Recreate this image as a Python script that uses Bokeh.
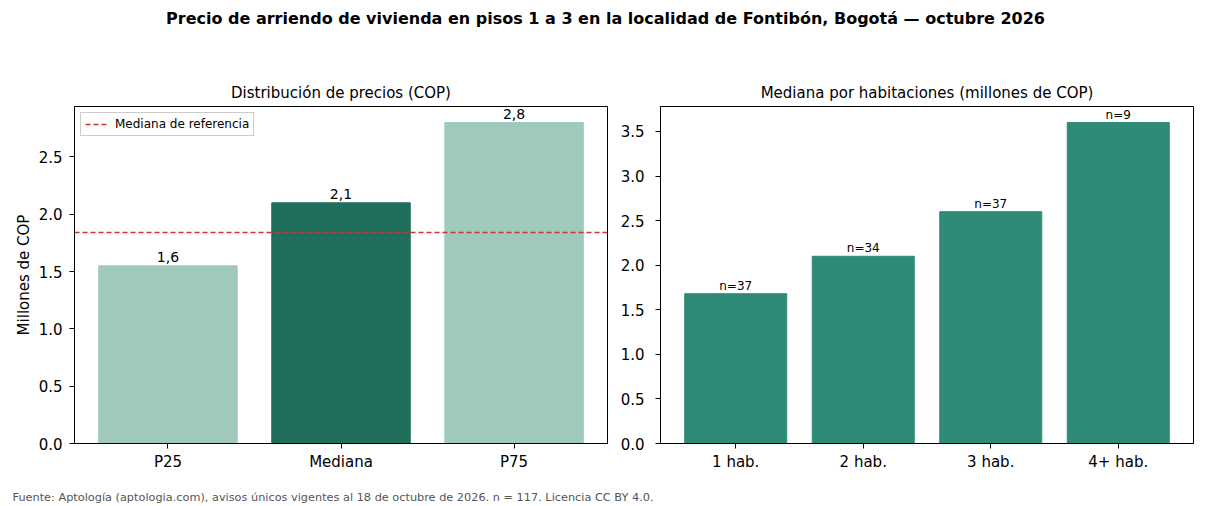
from bokeh.plotting import figure
from bokeh.layouts import column, row
from bokeh.models import Range1d, FixedTicker, Span, Legend, LegendItem, ColumnDataSource, NumeralTickFormatter
from bokeh.core.properties import value
from bokeh.embed import file_html
from bokeh.resources import INLINE

FONT = "DejaVu Sans"

# ---- data ----
main_title = "Precio de arriendo de vivienda en pisos 1 a 3 en la localidad de Fontibón, Bogotá — octubre 2026"
footer_text = "Fuente: Aptología (aptologia.com), avisos únicos vigentes al 18 de octubre de 2026. n = 117. Licencia CC BY 4.0."

dist_labels = ["P25", "Mediana", "P75"]
dist_values = [1.55, 2.10, 2.80]
dist_text = ["1,6", "2,1", "2,8"]
dist_colors = ["#9ec9bc", "#1f6e5c", "#9ec9bc"]
ref_median = 1.84

hab_labels = ["1 hab.", "2 hab.", "3 hab.", "4+ hab."]
hab_values = [1.68, 2.10, 2.60, 3.60]
hab_n = ["n=37", "n=34", "n=37", "n=9"]
hab_color = "#2e8b77"


def style_axes(p, yticks, ystandoff):
    p.xgrid.visible = False
    p.ygrid.visible = False
    p.outline_line_color = "black"
    p.outline_line_width = 1
    for ax in (p.xaxis[0], p.yaxis[0]):
        ax.axis_line_color = "black"
        ax.major_tick_line_color = "black"
        ax.major_tick_in = 0
        ax.major_tick_out = 5
        ax.minor_tick_line_color = None
        ax.major_label_text_font = FONT
        ax.major_label_text_font_size = "15px"
        ax.major_label_text_color = "black"
        ax.major_label_standoff = 4
    p.yaxis[0].major_label_standoff = ystandoff
    p.yaxis[0].ticker = FixedTicker(ticks=yticks)
    p.yaxis[0].formatter = NumeralTickFormatter(format="0.0")
    p.title.text_font = FONT
    p.title.text_font_size = "15px"
    p.title.text_font_style = "normal"
    p.title.text_color = "black"
    p.title.align = "center"
    p.title.standoff = 9


# ---- header ----
header = figure(width=1210, height=70, x_range=Range1d(0, 1210), y_range=Range1d(0, 70),
                x_axis_type=None, y_axis_type=None, toolbar_location=None,
                output_backend="svg", min_border=0, outline_line_color=None)
header.xgrid.visible = False
header.ygrid.visible = False
header.text(x=[605], y=[52], text=[main_title], text_font=value(FONT), text_font_size="16px",
            text_font_style="bold", text_align="center", text_baseline="middle", text_color="black")

# ---- left panel ----
nd = len(dist_labels)
p1 = figure(width=617, height=410, x_range=Range1d(-0.54, nd - 1 + 0.54),
            y_range=Range1d(0, max(dist_values) * 1.05),
            toolbar_location=None, output_backend="svg",
            title="Distribución de precios (COP)",
            min_border_left=74, min_border_right=10, min_border_top=36, min_border_bottom=37)
src1 = ColumnDataSource(dict(x=list(range(nd)), top=dist_values, color=dist_colors, lab=dist_text))
p1.vbar(x="x", top="top", width=0.8, bottom=0, color="color", source=src1)
p1.text(x="x", y="top", text="lab", source=src1, text_font=value(FONT), text_font_size="14px",
        text_align="center", text_baseline="bottom", y_offset=-4, text_color="black")
span = Span(location=ref_median, dimension="width", line_color="#c9372c", line_dash="5 3", line_width=1.5)
p1.add_layout(span)
ref_r = p1.line(x=[-10, -9], y=[ref_median, ref_median], line_color="#c9372c",
                line_dash="5 3", line_width=1.5)
style_axes(p1, [0, 0.5, 1.0, 1.5, 2.0, 2.5], 7)
p1.xaxis[0].ticker = FixedTicker(ticks=list(range(nd)))
p1.xaxis[0].major_label_overrides = {i: l for i, l in enumerate(dist_labels)}
p1.yaxis[0].axis_label = "Millones de COP"
p1.yaxis[0].axis_label_text_font = FONT
p1.yaxis[0].axis_label_text_font_size = "15px"
p1.yaxis[0].axis_label_text_font_style = "normal"
p1.yaxis[0].axis_label_text_color = "black"
p1.yaxis[0].axis_label_standoff = 3
legend = Legend(items=[LegendItem(label="Mediana de referencia", renderers=[ref_r])],
                location="top_left", label_text_font=FONT, label_text_font_size="12px",
                label_text_color="black",
                border_line_color="#cccccc", border_line_alpha=1, background_fill_alpha=0.9,
                glyph_width=22, glyph_height=12, label_standoff=8, padding=4, margin=6,
                spacing=0, label_height=12)
p1.add_layout(legend)

# ---- right panel ----
nh = len(hab_labels)
p2 = figure(width=593, height=410, x_range=Range1d(-0.59, nh - 1 + 0.59),
            y_range=Range1d(0, max(hab_values) * 1.05),
            toolbar_location=None, output_backend="svg",
            title="Mediana por habitaciones (millones de COP)",
            min_border_left=43, min_border_right=17, min_border_top=36, min_border_bottom=37)
src2 = ColumnDataSource(dict(x=list(range(nh)), top=hab_values, lab=hab_n))
p2.vbar(x="x", top="top", width=0.8, bottom=0, color=hab_color, source=src2)
p2.text(x="x", y="top", text="lab", source=src2, text_font=value(FONT), text_font_size="12px",
        text_align="center", text_baseline="bottom", y_offset=-1, text_color="black")
style_axes(p2, [0, 0.5, 1.0, 1.5, 2.0, 2.5, 3.0, 3.5], 11)
p2.xaxis[0].ticker = FixedTicker(ticks=list(range(nh)))
p2.xaxis[0].major_label_overrides = {i: l for i, l in enumerate(hab_labels)}

# ---- footer ----
footer = figure(width=1210, height=26, x_range=Range1d(0, 1210), y_range=Range1d(0, 26),
                x_axis_type=None, y_axis_type=None, toolbar_location=None,
                output_backend="svg", min_border=0, outline_line_color=None)
footer.xgrid.visible = False
footer.ygrid.visible = False
footer.text(x=[12], y=[9], text=[footer_text], text_font=value(FONT), text_font_size="11.3px",
            text_align="left", text_baseline="middle", text_color="#555555")

layout = column(header, row(p1, p2, spacing=0), footer, spacing=0)
open("out.html", "w").write(file_html(layout, INLINE))
